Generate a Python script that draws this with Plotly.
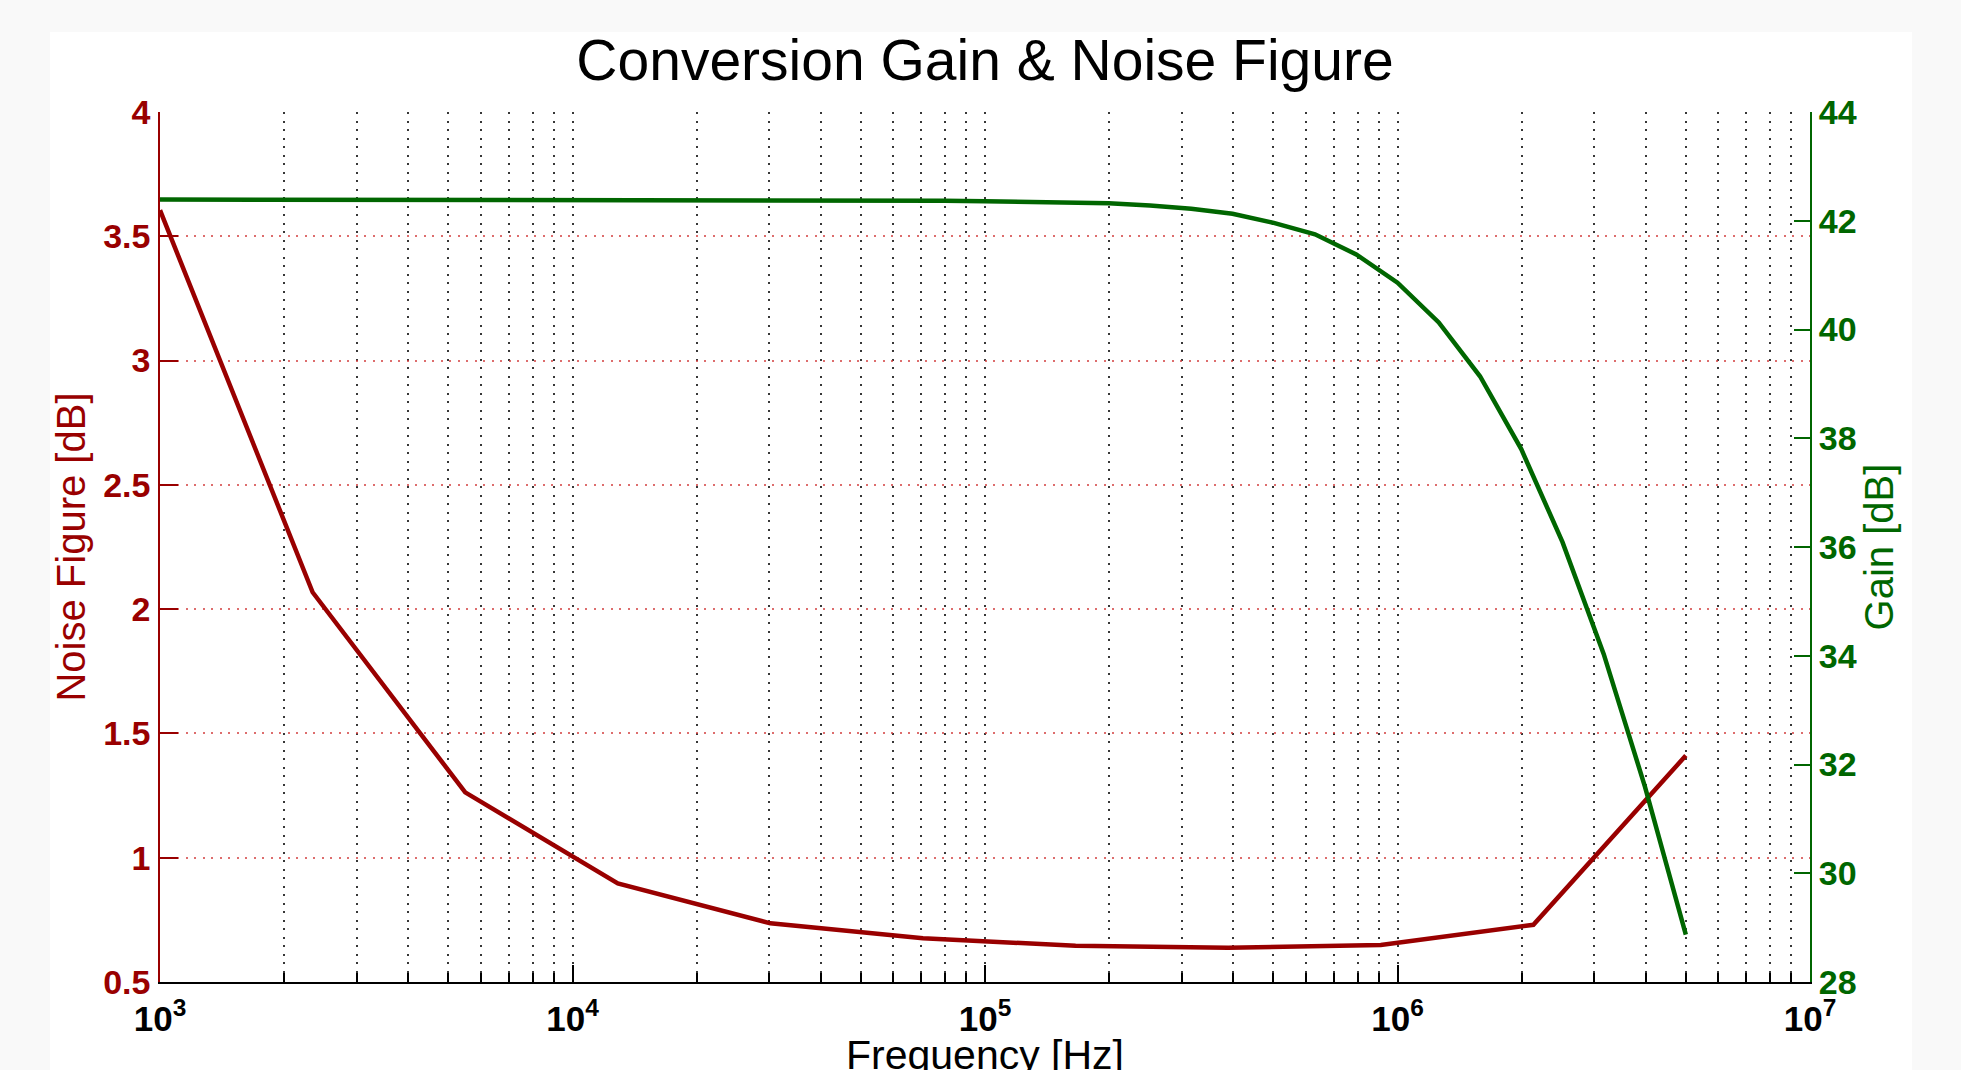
import plotly.graph_objects as go

# ---- data ----
nf_freq = [1000, 2344, 5494, 12878, 30184, 70737, 165802, 388627, 910886, 2135070, 5000000]
nf_db = [3.605, 2.068, 1.263, 0.897, 0.736, 0.676, 0.646, 0.638, 0.649, 0.730, 1.411]

gain_freq = [1000, 1258.9, 1584.9, 1995.3, 2511.9, 3162.3, 3981.1, 5011.9, 6309.6, 7943.3,
             10000, 12589, 15849, 19953, 25119, 31623, 39811, 50119, 63096, 79433,
             100000, 125893, 158489, 199526, 251189, 316228, 398107, 501187, 630957, 794328,
             1000000, 1258925, 1584893, 1995262, 2511886, 3162278, 3981072, 5000000]
gain_db = [42.39, 42.39, 42.39, 42.39, 42.39, 42.39, 42.39, 42.39, 42.37, 42.37,
           42.37, 42.37, 42.37, 42.37, 42.37, 42.37, 42.37, 42.37, 42.37, 42.37,
           42.36, 42.35, 42.34, 42.32, 42.28, 42.22, 42.13, 41.96, 41.75, 41.38,
           40.86, 40.13, 39.14, 37.80, 36.09, 34.03, 31.59, 28.87]

x_tickvals = [1e3, 1e4, 1e5, 1e6, 1e7]
x_ticktext = ["10<sup>3</sup>", "10<sup>4</sup>", "10<sup>5</sup>", "10<sup>6</sup>", "10<sup>7</sup>"]
x_minor = [2e3, 3e3, 4e3, 5e3, 6e3, 7e3, 8e3, 9e3,
           2e4, 3e4, 4e4, 5e4, 6e4, 7e4, 8e4, 9e4,
           2e5, 3e5, 4e5, 5e5, 6e5, 7e5, 8e5, 9e5,
           2e6, 3e6, 4e6, 5e6, 6e6, 7e6, 8e6, 9e6]

RED = "#990000"
GREEN = "#006600"
FONT = "Liberation Sans, Arial, sans-serif"
VGRID = "rgba(20,20,20,0.85)"
HGRID = "rgba(210,60,60,0.75)"
DASH = "2px,6.5px"
OUTER = "#f9f9f9"

# figure is placed 8px in from the page corner by the browser's body margin
W, H = 1961, 1070
L, R, T, B = 152, 159, 104, 96
pw, ph = W - L - R, H - T - B

fig = go.Figure()
fig.add_trace(go.Scatter(x=nf_freq, y=nf_db, mode="lines", name="Noise Figure",
                         line=dict(color=RED, width=4.5), yaxis="y"))
fig.add_trace(go.Scatter(x=gain_freq, y=gain_db, mode="lines", name="Gain",
                         line=dict(color=GREEN, width=4.5), yaxis="y2"))

fig.update_layout(
    width=W, height=H,
    margin=dict(l=L, r=R, t=T, b=B),
    paper_bgcolor=OUTER,
    plot_bgcolor="white",
    showlegend=False,
    font=dict(family=FONT),
    title=dict(text="Conversion Gain &amp; Noise Figure", x=0.5, xref="paper", xanchor="center",
               y=1 - 52 / H, yref="container", yanchor="middle",
               font=dict(family=FONT, size=57, color="black")),
    shapes=[dict(type="rect", xref="paper", yref="paper",
                 x0=(42 - L) / pw, x1=(1904 - L) / pw,
                 y0=-0.3, y1=(H - B - 24) / ph,
                 fillcolor="white", line=dict(width=0), layer="below")],
    xaxis=dict(
        type="log", range=[3, 7],
        tickmode="array", tickvals=x_tickvals, ticktext=x_ticktext,
        ticks="inside", ticklen=17, tickwidth=1.5, tickcolor="black",
        showline=True, linecolor="black", linewidth=2, mirror=False,
        showgrid=True, gridcolor=VGRID, gridwidth=1.5, griddash=DASH,
        minor=dict(tickmode="array", tickvals=x_minor, ticks="inside", ticklen=9,
                   tickwidth=1.5, tickcolor="black",
                   showgrid=True, gridcolor=VGRID, gridwidth=1.5, griddash=DASH),
        tickfont=dict(family=FONT, size=35, color="black", weight="bold"),
        ticklabelstandoff=5,
        title=dict(text="Frequency [Hz]", font=dict(family=FONT, size=41, color="black"),
                   standoff=5),
        zeroline=False, automargin=False,
    ),
    yaxis=dict(
        range=[0.5, 4], tickmode="linear", tick0=0.5, dtick=0.5,
        ticks="inside", ticklen=18, tickwidth=1.5, tickcolor=RED,
        showline=True, linecolor=RED, linewidth=1.5,
        showgrid=True, gridcolor=HGRID, gridwidth=1.5, griddash=DASH,
        tickfont=dict(family=FONT, size=34, color=RED, weight="bold"),
        ticklabelstandoff=1,
        title=dict(text="Noise Figure [dB]", font=dict(family=FONT, size=40, color=RED),
                   standoff=5),
        zeroline=False, automargin=False,
    ),
    yaxis2=dict(
        range=[28, 44], tickmode="linear", tick0=28, dtick=2,
        overlaying="y", side="right", anchor="x",
        ticks="inside", ticklen=16, tickwidth=2, tickcolor=GREEN,
        showline=True, linecolor=GREEN, linewidth=2,
        showgrid=False,
        tickfont=dict(family=FONT, size=34, color=GREEN, weight="bold"),
        title=dict(text="Gain [dB]", font=dict(family=FONT, size=40, color=GREEN),
                   standoff=6),
        zeroline=False, automargin=False,
    ),
)

fig.write_html("out.html", post_script="document.body.style.background='#f9f9f9';")
